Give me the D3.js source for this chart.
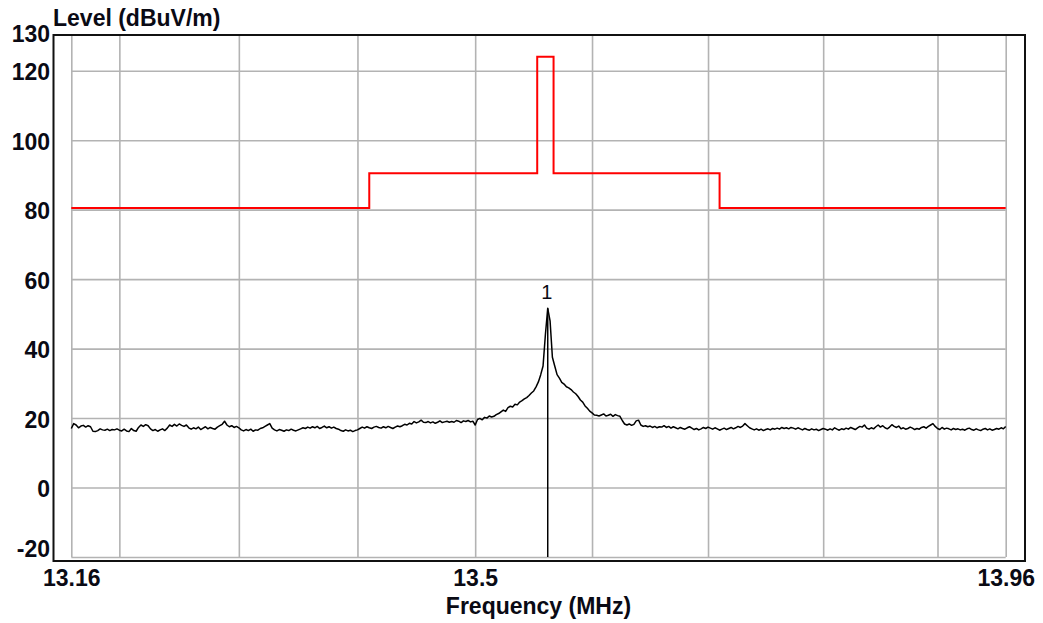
<!DOCTYPE html>
<html><head><meta charset="utf-8">
<script src="https://cdn.jsdelivr.net/npm/d3@7"></script>
<style>
html,body{margin:0;padding:0;background:#fff;}
svg{display:block;}
text{font-family:"Liberation Sans",Arial,sans-serif;fill:#0a0a14;}
</style></head><body>
<svg id="chart" width="1043" height="623"></svg>
<script>
// ---- data ----
const xDomain = [13.16, 13.96];
const yDomain = [-20, 130];
const xTickLabels = [13.16, 13.5, 13.96];
const xGridValues = [13.16, 13.2, 13.3, 13.4, 13.5, 13.6, 13.7, 13.8, 13.9, 13.96];
const yTickLabels = [-20, 0, 20, 40, 60, 80, 100, 120, 130];
const yGridValues = [-20, 0, 20, 40, 60, 80, 100, 120];
const xTitle = "Frequency (MHz)";
const yTitle = "Level (dBuV/m)";

// limit line (step edges and levels)
const limitEdges = [13.16, 13.41, 13.553, 13.567, 13.71, 13.96];
const limitLevels = [80.5, 90.5, 124, 90.5, 80.5];

// measured trace: sweep 13.16 MHz, 0.002 MHz per point
const sweepStart = 13.16;
const sweepStep = 0.002;
const traceLevels = [
17.0,18.4,18.0,17.2,17.7,17.9,17.4,17.8,17.5,16.2,
16.1,16.4,16.9,16.6,16.5,16.8,16.4,16.7,16.6,16.9,
16.5,16.3,16.8,16.3,16.1,17.0,16.4,16.2,17.3,18.0,
17.6,18.1,17.8,16.9,16.4,16.7,16.2,16.6,16.9,16.4,
17.1,18.0,17.6,18.2,17.7,18.3,17.9,17.6,18.0,17.2,
16.8,17.2,16.9,17.4,16.7,17.1,17.5,16.9,17.3,17.0,
16.8,17.4,17.8,18.2,19.1,18.0,17.5,17.8,17.3,17.6,
17.2,16.6,16.3,16.7,16.4,16.8,16.2,16.6,16.5,17.0,
17.2,17.6,18.0,18.4,17.1,16.6,16.3,16.7,16.5,16.2,
16.6,16.4,16.8,16.5,16.3,16.6,16.9,17.2,17.0,17.4,
17.1,17.5,17.2,17.6,17.0,17.3,17.7,17.2,17.5,17.1,
17.4,17.0,16.8,16.4,16.2,16.6,16.3,16.5,16.1,16.4,
16.6,17.0,17.4,17.1,17.5,17.2,17.0,17.4,17.6,17.3,
17.1,17.5,17.2,17.6,17.3,17.0,17.4,17.7,17.5,17.8,
18.2,18.0,18.5,18.3,19.0,18.6,18.9,19.4,18.8,18.7,
19.0,18.6,18.9,18.5,18.8,19.2,18.7,18.9,19.1,18.8,
19.0,18.8,19.3,19.1,18.7,19.2,19.0,19.3,18.9,19.1,
18.0,19.6,19.9,19.5,20.2,20.0,20.6,20.3,20.5,21.0,
21.3,21.8,22.3,21.9,23.0,23.4,23.2,24.0,23.8,24.6,
25.0,25.5,25.9,26.5,27.2,27.8,29.0,30.4,32.5,35.0,
44.0,51.6,48.0,37.5,35.0,32.5,31.5,30.3,29.8,29.0,
28.7,28.2,27.5,27.0,26.2,25.2,24.6,23.5,22.8,22.0,
21.5,20.9,20.8,20.6,20.9,21.2,20.6,20.8,21.1,20.5,
21.0,20.7,20.5,19.3,18.3,18.0,18.3,17.9,18.2,19.2,
19.4,18.0,17.6,17.8,17.5,17.7,17.3,17.6,17.2,17.5,
17.4,17.8,17.3,17.6,17.1,17.5,17.2,16.9,17.3,17.0,
16.8,17.2,17.5,17.1,16.7,17.0,16.6,16.9,17.3,17.0,
17.4,17.1,16.8,17.2,16.9,16.5,16.8,17.1,16.7,17.0,
17.3,16.9,17.2,17.6,17.3,17.7,18.4,17.8,17.2,16.9,
16.6,16.9,16.5,16.8,16.4,16.7,16.9,16.6,17.0,16.8,
17.1,16.8,17.3,17.0,17.2,16.9,17.3,17.1,16.8,17.2,
16.9,16.6,17.0,16.7,16.5,16.9,16.6,16.8,16.4,16.7,
17.0,16.8,16.5,16.9,16.6,17.2,16.8,16.5,16.9,16.7,
17.1,16.8,17.3,17.0,16.7,17.2,17.6,17.4,18.0,17.1,
16.8,17.2,16.9,17.5,18.0,17.4,17.8,17.2,16.9,17.4,
18.1,17.6,17.3,17.7,16.9,17.2,16.8,17.0,17.4,17.1,
16.7,17.0,16.8,17.3,17.5,17.1,17.6,18.0,18.4,17.6,
17.0,16.7,17.3,16.8,17.1,16.9,16.6,17.0,16.7,16.9,
16.6,16.8,16.5,16.9,17.1,16.7,16.5,16.9,16.6,16.4,
16.8,17.0,16.6,16.9,16.5,16.7,17.0,16.8,17.2,16.9,
17.6
];

// marker
const markerFreq = 13.562;
const markerLevel = 51.6;
const markerLabel = "1";

// ---- drawing ----
const svg = d3.select("#chart");
const x = d3.scaleLog().domain(xDomain).range([71.3, 1005.7]);
const y = d3.scaleLinear().domain(yDomain).range([557, 36]);

const gridColor = "#b3b3b3";
const fontSize = "23px";

// vertical grid lines
svg.append("g")
  .attr("transform", `translate(0,${y(yDomain[0])})`)
  .call(d3.axisBottom(x).tickValues(xGridValues).tickSize(-(y(yDomain[0]) - 35)).tickFormat(""))
  .call(g => g.select(".domain").remove())
  .call(g => g.selectAll("line").attr("stroke", gridColor).attr("stroke-width", 1.6));

// horizontal grid lines
svg.append("g")
  .attr("transform", `translate(${x(xDomain[0])},0)`)
  .call(d3.axisLeft(y).tickValues(yGridValues).tickSize(-(x(xDomain[1]) - x(xDomain[0]))).tickFormat(""))
  .call(g => g.select(".domain").remove())
  .call(g => g.selectAll("line").attr("stroke", gridColor).attr("stroke-width", 1.6));

// frame
svg.append("rect")
  .attr("x", 53.5).attr("y", 35)
  .attr("width", 1025 - 53.5).attr("height", 561 - 35)
  .attr("fill", "none").attr("stroke", "#111").attr("stroke-width", 2);

// limit line
const limitData = limitLevels.map((v, i) => ({f: limitEdges[i], v}));
limitData.push({f: limitEdges[limitEdges.length - 1], v: limitLevels[limitLevels.length - 1]});
svg.append("path")
  .datum(limitData)
  .attr("fill", "none").attr("stroke", "#ff0000").attr("stroke-width", 2)
  .attr("d", d3.line().x(d => x(d.f)).y(d => y(d.v)).curve(d3.curveStepAfter));

// trace
const traceData = traceLevels.map((v, i) => ({f: sweepStart + i * sweepStep, v}));
svg.append("path")
  .datum(traceData)
  .attr("fill", "none").attr("stroke", "#000").attr("stroke-width", 1.5)
  .attr("stroke-linejoin", "round")
  .attr("d", d3.line().x(d => x(d.f)).y(d => y(d.v)));

// marker line & label
svg.append("line")
  .attr("x1", x(markerFreq)).attr("x2", x(markerFreq))
  .attr("y1", y(markerLevel)).attr("y2", y(yDomain[0]))
  .attr("stroke", "#000").attr("stroke-width", 1.5);
svg.append("text")
  .attr("x", x(markerFreq) - 1).attr("y", y(markerLevel) - 9)
  .attr("text-anchor", "middle")
  .style("font-size", "20px")
  .text(markerLabel);

// y tick labels
const yAx = svg.append("g")
  .attr("transform", "translate(50,0)")
  .call(d3.axisLeft(y).tickValues(yTickLabels).tickSize(0).tickPadding(0).tickFormat(d => String(d)));
yAx.select(".domain").remove();
yAx.selectAll("text")
  .attr("x", 0)
  .attr("dy", d => d === yDomain[1] ? "5px" : (d === yDomain[0] ? "-1px" : "9px"))
  .style("font-size", fontSize).style("font-weight", "bold")
  .attr("fill", "#0a0a14");

// x tick labels
const xAx = svg.append("g")
  .call(d3.axisBottom(x).tickValues(xTickLabels).tickSize(0).tickFormat(d => String(d)));
xAx.select(".domain").remove();
xAx.selectAll("text")
  .attr("y", 586).attr("dy", 0)
  .style("font-size", fontSize).style("font-weight", "bold")
  .attr("fill", "#0a0a14");

// axis titles
svg.append("text")
  .attr("x", (x(xDomain[0]) + x(xDomain[1])) / 2).attr("y", 614)
  .attr("text-anchor", "middle")
  .style("font-size", fontSize).style("font-weight", "bold")
  .text(xTitle);
svg.append("text")
  .attr("x", 53).attr("y", 26)
  .style("font-size", fontSize).style("font-weight", "bold")
  .text(yTitle);
</script>
</body></html>
